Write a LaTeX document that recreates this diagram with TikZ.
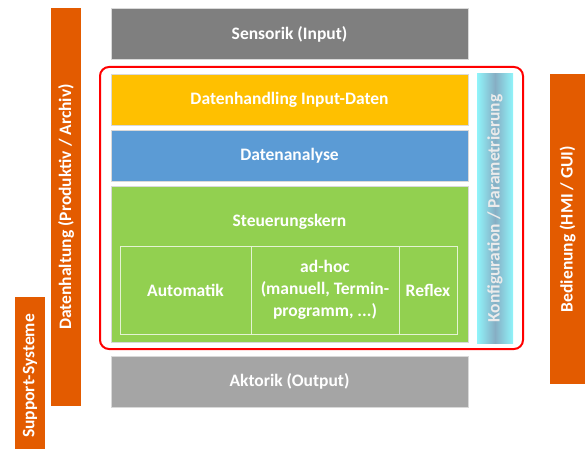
\documentclass[tikz,border=0pt]{standalone}
\usepackage{fontspec}
\setmainfont{Carlito}
\usetikzlibrary{positioning}
\definecolor{sensorgray}{HTML}{7F7F7F}
\definecolor{aktorgray}{HTML}{A5A5A5}
\definecolor{datayellow}{HTML}{FFC000}
\definecolor{analyseblue}{HTML}{5B9BD5}
\definecolor{kerngreen}{HTML}{92D050}
\definecolor{sideorange}{HTML}{E35B00}
\definecolor{konfigcyan}{HTML}{90F4FA}
\definecolor{konfigmid}{HTML}{86AEC4}
\definecolor{rahmenred}{HTML}{FF0000}

\begin{document}
\begin{tikzpicture}[x=1pt, y=-1pt, font=\fontsize{17.5}{22}\selectfont\bfseries,
            layer/.style ={rectangle, draw=white!85!black, line width=0.8pt, text=white,
            minimum width=357pt, minimum height=51pt, inner sep=0pt},
            part/.style ={rectangle, draw=white!75!kerngreen, line width=0.8pt, text=white,
            minimum height=88pt, inner sep=2pt, align=center},
            side/.style ={rectangle, fill=sideorange, text=white, rotate=90, inner sep=0pt},
            rahmen/.style ={rectangle, draw=rahmenred, line width=2pt, rounded corners=9pt,
            minimum width=423pt, minimum height=282pt}]

        \useasboundingbox (0,0) rectangle (586,449);

        % Schichten
        \node[layer, fill=sensorgray] (sensorik) at (289.5,34) {Sensorik (Input)};
        \node[rahmen] (kern) at (311.5,208) {};
        \node[layer, fill=datayellow] (input) at (289.5,99.5) {Datenhandling Input-Daten};
        \node[layer, fill=analyseblue] (analyse) at (289.5,155.5) {Datenanalyse};
        \node[layer, fill=kerngreen, minimum height=156pt] (steuerung) at (289.5,264) {};
        \node[text=white] (steuerlabel) at (289.5,222) {Steuerungskern};
        \node[layer, fill=aktorgray] (aktorik) at (289.5,381.5) {Aktorik (Output)};

        % Steuerungskern-Teile
        \node[part, minimum width=131pt] (automatik) at (185.5,290) {Automatik};
        \node[part, minimum width=148pt] (adhoc) at (325,290) {ad-hoc\\(manuell, Termin-\\programm, ...)};
        \node[part, minimum width=58pt] (reflex) at (428,290) {Reflex};

        % Konfiguration
        \node[rectangle, minimum width=36pt, minimum height=269pt, left color=konfigcyan,
            right color=konfigcyan, middle color=konfigmid] (konfig) at (495,208.5) {};
        \node[text=white!92!black, rotate=90] (konfiglabel) at (konfig.center) {Konfiguration / Parametrierung};

        % seitliche Balken
        \node[side, minimum width=398pt, minimum height=30pt] (datenhaltung) at (66,207) {Datenhaltung (Produktiv / Archiv)};
        \node[side, minimum width=158pt, minimum height=30pt] (support) at (30,376) {Support-Systeme};
        \node[side, minimum width=310pt, minimum height=35pt] (bedienung) at (567.5,229) {Bedienung (HMI / GUI)};

    \end{tikzpicture}
\end{document}
